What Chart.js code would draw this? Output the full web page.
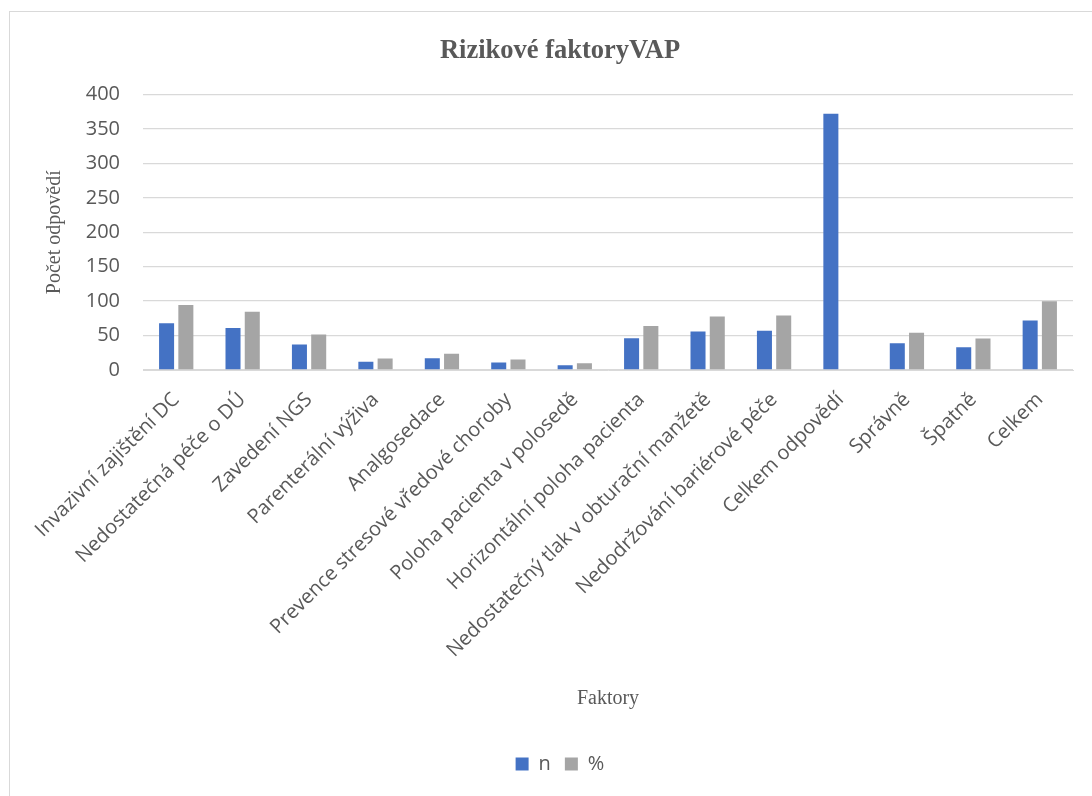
<!DOCTYPE html>
<html>
<head>
<meta charset="utf-8">
<script src="https://cdn.jsdelivr.net/npm/chart.js@4.4.1/dist/chart.umd.min.js"></script>
<style>
    html, body { margin: 0; padding: 0; background: #fff; overflow: hidden; }
    #wrap { position: relative; width: 1092px; height: 796px; }
    #frame { position: absolute; left: 9px; top: 11px; width: 1200px; height: 900px;
             border-left: 1px solid #d9d9d9; border-top: 1px solid #d9d9d9; pointer-events: none; }
    canvas { position: absolute; left: 0; top: 0; }
</style>
</head>
<body>
<div id="wrap">
    <canvas id="vapChart" width="1092" height="796"></canvas>
    <div id="frame"></div>
</div>
<script>
// Data
const factors = [
    'Invazivní zajištění DC',
    'Nedostatečná péče o DÚ',
    'Zavedení NGS',
    'Parenterální výživa',
    'Analgosedace',
    'Prevence stresové vředové choroby',
    'Poloha pacienta v polosedě',
    'Horizontální poloha pacienta',
    'Nedostatečný tlak v obturační manžetě',
    'Nedodržování bariérové péče',
    'Celkem odpovědí',
    'Správně',
    'Špatně',
    'Celkem'
];
const countN = [68, 61, 37, 12, 17, 11, 7, 46, 56, 57, 372, 39, 33, 72];
const percent = [94.4, 84.7, 51.4, 16.7, 23.6, 15.3, 9.7, 63.9, 77.8, 79.2, null, 54.2, 45.8, 100];
const yTicks = [0, 50, 100, 150, 200, 250, 300, 350, 400];

const TEXT = '#595959';
const SANS = '"Open Sans", sans-serif';
const SERIF = '"Liberation Serif", serif';

/* Builds the risk factor bar chart
*/
const buildChart = () => {
    const data = {
        labels: factors,
        datasets: [{
            label: 'n',
            data: countN,
            backgroundColor: '#4472C4'
        }, {
            label: '%',
            data: percent,
            backgroundColor: '#A5A5A5'
        }]
    };

    const config = {
        type: 'bar',
        data: data,
        options: {
            responsive: false,
            animation: false,
            categoryPercentage: 0.58,
            barPercentage: 0.78,
            layout: { padding: { left: 47, right: 19, top: 0, bottom: 12 } },
            plugins: {
                title: {
                    display: true,
                    text: 'Rizikové faktoryVAP',
                    color: TEXT,
                    font: { family: SERIF, size: 26.5, weight: 'bold' },
                    padding: { top: 35, bottom: 27.7 }
                },
                legend: {
                    position: 'bottom',
                    labels: {
                        color: TEXT,
                        font: { family: SANS, size: 20 },
                        boxWidth: 13,
                        boxHeight: 13,
                        padding: 14
                    }
                },
                tooltip: { enabled: false }
            },
            scales: {
                x: {
                    grid: { display: false },
                    border: { display: true, color: '#d9d9d9', width: 1 },
                    ticks: {
                        color: TEXT,
                        font: { family: SANS, size: 20 },
                        autoSkip: false,
                        minRotation: 45,
                        maxRotation: 45,
                        padding: 10
                    },
                    title: {
                        display: true,
                        text: 'Faktory',
                        color: TEXT,
                        font: { family: SERIF, size: 20 },
                        padding: { top: 0, bottom: 29 }
                    },
                    afterFit: (scale) => {
                        scale.height = 370;
                        scale.paddingLeft = 0;
                        scale.paddingRight = 0;
                    }
                },
                y: {
                    min: 0,
                    max: 400,
                    afterBuildTicks: (scale) => {
                        scale.ticks = yTicks.map(v => ({ value: v }));
                    },
                    grid: { color: '#d9d9d9', lineWidth: 1.3, drawTicks: false },
                    border: { display: false },
                    ticks: {
                        color: TEXT,
                        font: { family: SANS, size: 20 },
                        padding: 23
                    },
                    title: {
                        display: true,
                        text: 'Počet odpovědí',
                        color: TEXT,
                        font: { family: SERIF, size: 20, lineHeight: 0.8 },
                        padding: { top: 0, bottom: 0 }
                    },
                    afterFit: (scale) => {
                        scale.width = 96;
                    }
                }
            }
        }
    };

    const ctx = document.getElementById('vapChart').getContext('2d');
    new Chart(ctx, config);
}

document.addEventListener("DOMContentLoaded", () => {
    buildChart();
});
</script>
</body>
</html>
